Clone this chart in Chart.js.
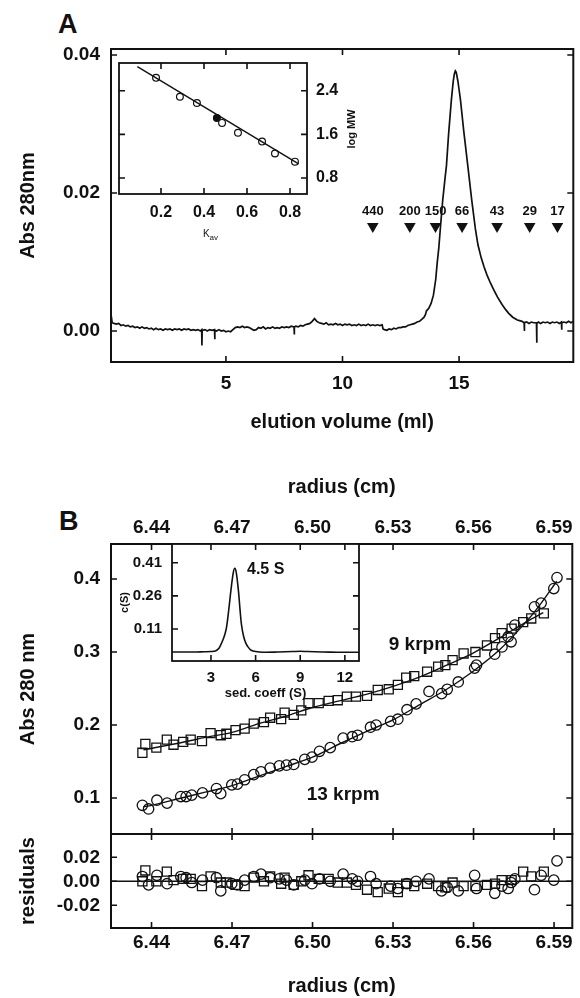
<!DOCTYPE html>
<html>
<head>
<meta charset="utf-8">
<script src="https://cdn.jsdelivr.net/npm/chart.js@4.4.1/dist/chart.umd.min.js"></script>
<style>
  html, body { margin: 0; padding: 0; background: #fff; }
  body { width: 580px; height: 998px; position: relative; overflow: hidden; }
  canvas { position: absolute; left: 0; top: 0; }
  .panel { position: absolute; font: bold 27px "Liberation Sans", Arial, sans-serif; line-height: 1; color: #111; }
</style>
</head>
<body>
<div class="panel" style="left:58px;top:11px">A</div>
<div class="panel" style="left:59px;top:508px">B</div>
<canvas id="chartA" width="580" height="998"></canvas>
<canvas id="chartB" width="580" height="998"></canvas>
<canvas id="chartRes" width="580" height="998"></canvas>
<canvas id="insetA" width="580" height="998"></canvas>
<canvas id="insetB" width="580" height="998"></canvas>
<script>
// ---- panel A: gel filtration profile ----
const elutionMl = [
  0.08,0.12,0.2,0.3,0.4,0.5,0.6,0.7,0.8,0.9,
  1.0,1.1,1.2,1.3,1.4,1.5,1.6,1.7,1.8,1.9,
  2.0,2.1,2.2,2.3,2.4,2.5,2.6,2.7,2.8,2.9,
  3.0,3.1,3.2,3.3,3.4,3.5,3.6,3.7,3.8,3.9,
  3.96,3.97,3.98,4.1,4.2,4.3,4.4,4.51,4.52,4.53,
  4.6,4.7,4.8,4.9,5.0,5.1,5.2,5.3,5.4,5.5,
  5.6,5.7,5.8,5.9,6.0,6.1,6.2,6.3,6.4,6.5,
  6.6,6.7,6.8,6.9,7.0,7.1,7.2,7.3,7.4,7.5,
  7.6,7.7,7.8,7.92,7.93,7.94,8.0,8.1,8.2,8.3,
  8.4,8.5,8.6,8.7,8.8,8.9,9.0,9.1,9.2,9.3,
  9.4,9.5,9.6,9.7,9.8,9.9,10.0,10.1,10.2,10.3,
  10.4,10.5,10.6,10.7,10.8,10.9,11.0,11.1,11.2,11.3,
  11.4,11.5,11.6,11.7,11.74,11.8,11.9,12.0,12.1,12.2,
  12.3,12.4,12.5,12.6,12.7,12.8,12.9,13.0,13.1,13.2,
  13.3,13.4,13.5,13.56,13.6,13.65,13.7,13.8,13.9,14.0,
  14.06,14.13,14.2,14.3,14.4,14.46,14.55,14.67,14.75,14.8,
  14.84,14.88,14.95,15.0,15.06,15.2,15.38,15.55,15.7,15.81,
  15.95,16.07,16.2,16.34,16.5,16.65,16.85,17.0,17.12,17.3,
  17.5,17.6,17.7,17.79,17.8,17.81,17.9,18.0,18.1,18.2,
  18.32,18.33,18.34,18.4,18.5,18.6,18.7,18.8,18.9,19.0,
  19.1,19.2,19.3,19.39,19.4,19.41,19.5,19.6,19.7,19.8,
  19.9
];
const elutionAbs = [
  0.0022,0.0012,0.0011,0.0010,0.0011,0.0008,0.0009,0.0007,0.0008,0.0006,
  0.0007,0.0005,0.0006,0.0004,0.0006,0.0004,0.0005,0.0003,0.0004,0.0002,
  0.0004,0.0002,0.0003,0.0001,0.0003,0.0002,0.0003,0.0001,0.0003,0.0002,
  0.0003,0.0001,0.0003,0.0002,0.0003,0.0001,0.0002,0.0001,0.0002,0.0000,
  0.0002,-0.0021,0.0001,0.0002,0.0000,0.0002,0.0001,0.0002,-0.0012,0.0001,
  0.0000,0.0002,0.0000,0.0001,-0.0001,0.0000,-0.0001,0.0002,0.0005,0.0006,
  0.0005,0.0007,0.0005,0.0006,0.0005,0.0003,0.0001,0.0002,0.0005,0.0004,
  0.0006,0.0003,0.0005,0.0004,0.0006,0.0004,0.0005,0.0004,0.0006,0.0005,
  0.0006,0.0005,0.0007,0.0006,-0.0005,0.0006,0.0007,0.0006,0.0008,0.0007,
  0.0009,0.0010,0.0011,0.0014,0.0018,0.0014,0.0012,0.0011,0.0010,0.0012,
  0.0009,0.0010,0.0009,0.0011,0.0009,0.0010,0.0008,0.0010,0.0009,0.0010,
  0.0008,0.0009,0.0008,0.0010,0.0008,0.0009,0.0008,0.0010,0.0008,0.0009,
  0.0008,0.0009,0.0008,0.0009,0.0003,0.0002,0.0001,0.0003,0.0002,0.0004,
  0.0003,0.0005,0.0005,0.0006,0.0006,0.0008,0.0009,0.0010,0.0011,0.0013,
  0.0014,0.0017,0.0020,0.0024,0.0029,0.0031,0.0033,0.0040,0.0052,0.0075,
  0.0098,0.0120,0.0150,0.0190,0.0222,0.0240,0.0285,0.0335,0.0362,0.0373,
  0.0377,0.0375,0.0362,0.0350,0.0335,0.0290,0.0238,0.0188,0.0148,0.0125,
  0.0106,0.0093,0.0081,0.0070,0.0059,0.0049,0.0038,0.0031,0.0026,0.0020,
  0.0016,0.0015,0.0014,0.0012,0.0000,0.0012,0.0013,0.0011,0.0013,0.0012,
  0.0012,-0.0017,0.0011,0.0013,0.0011,0.0013,0.0012,0.0013,0.0011,0.0013,
  0.0012,0.0013,0.0011,0.0013,0.0002,0.0012,0.0013,0.0012,0.0014,0.0012,
  0.0014
];
// molecular weight standards (kDa) and their elution volumes
const standardMl = [11.30, 12.89, 13.99, 15.13, 16.63, 18.03, 19.22];
const standardKDa = ['440', '200', '150', '66', '43', '29', '17'];
const elutionTicks = [5, 10, 15];
const absTicksA = [0.00, 0.02, 0.04];

// inset A: calibration
const calKav = [0.177, 0.288, 0.367, 0.484, 0.558, 0.670, 0.730, 0.823];
const calLogMW = [2.636, 2.290, 2.176, 1.810, 1.630, 1.467, 1.250, 1.100];
const sampleKav = [0.460];
const sampleLogMW = [1.900];
const calFitKav = [0.09, 0.84];
const calFitLogMW = [2.843, 1.060];
const kavTicks = [0.2, 0.4, 0.6, 0.8];
const logMWTicks = [0.8, 1.6, 2.4];

// ---- panel B: sedimentation equilibrium ----
const r9 = [6.4366,6.4377,6.4418,6.4457,6.4482,6.4518,6.4546,6.4588,6.4620,6.4658,
  6.4679,6.4713,6.4747,6.4781,6.4819,6.4842,6.4883,6.4896,6.4930,6.4958,
  6.4985,6.5023,6.5060,6.5094,6.5128,6.5162,6.5203,6.5243,6.5284,6.5318,
  6.5349,6.5379,6.5427,6.5468,6.5495,6.5522,6.5563,6.5607,6.5650,6.5680,
  6.5705,6.5742,6.5785,6.5815,6.5862];
const abs9 = [0.162,0.174,0.169,0.180,0.173,0.177,0.180,0.178,0.189,0.186,
  0.188,0.193,0.195,0.202,0.204,0.210,0.208,0.217,0.214,0.220,
  0.230,0.230,0.233,0.234,0.239,0.239,0.240,0.248,0.249,0.255,
  0.265,0.267,0.273,0.280,0.282,0.289,0.298,0.300,0.309,0.319,
  0.326,0.332,0.341,0.346,0.353];
const res9 = [0.000,0.009,0.000,0.008,0.001,0.002,0.002,-0.004,0.004,-0.001,
  -0.001,-0.003,-0.004,0.003,0.000,0.004,-0.002,0.003,-0.003,0.000,
  0.005,0.002,0.002,-0.001,-0.001,-0.003,-0.007,-0.009,-0.006,-0.009,
  -0.002,-0.004,-0.002,-0.004,-0.005,-0.001,-0.004,-0.004,-0.003,-0.002,
  0.001,0.001,0.008,0.004,0.008];
const r13 = [6.4366,6.4389,6.4420,6.4458,6.4509,6.4529,6.4550,6.4590,6.4642,6.4658,
  6.4699,6.4720,6.4747,6.4781,6.4808,6.4842,6.4876,6.4903,6.4930,6.4971,
  6.4998,6.5026,6.5066,6.5114,6.5148,6.5168,6.5216,6.5237,6.5291,6.5318,
  6.5352,6.5386,6.5434,6.5481,6.5502,6.5543,6.5604,6.5611,6.5679,6.5706,
  6.5729,6.5740,6.5754,6.5827,6.5852,6.5899,6.5911];
const abs13 = [0.090,0.085,0.097,0.093,0.102,0.102,0.104,0.107,0.113,0.106,
  0.118,0.119,0.125,0.132,0.136,0.141,0.144,0.145,0.146,0.153,
  0.156,0.164,0.169,0.182,0.184,0.186,0.197,0.200,0.205,0.208,
  0.221,0.229,0.246,0.243,0.249,0.259,0.278,0.282,0.297,0.307,
  0.321,0.314,0.337,0.362,0.367,0.387,0.402];
const res13 = [0.004,-0.003,0.005,-0.002,0.004,0.003,-0.001,0.001,0.003,-0.008,
  -0.002,-0.003,0.001,0.004,0.006,0.003,0.002,0.001,-0.003,0.001,
  -0.002,0.002,0.000,0.006,0.002,0.000,0.004,-0.002,-0.004,-0.006,
  -0.002,0.000,0.002,-0.008,-0.005,-0.008,0.005,-0.006,-0.010,-0.004,
  -0.006,-0.001,0.002,-0.007,0.005,0.001,0.017];
// fitted curves
const fit9R = [6.437,6.45,6.46,6.47,6.48,6.49,6.50,6.51,6.52,6.53,6.54,6.55,6.56,6.57,6.58,6.586];
const fit9Abs = [0.166,0.175,0.183,0.190,0.202,0.212,0.224,0.233,0.242,0.253,0.266,0.282,0.299,0.320,0.342,0.354];
const fit13R = [6.437,6.44,6.45,6.46,6.47,6.48,6.49,6.50,6.51,6.52,6.53,6.54,6.55,6.56,6.57,6.58,6.585,6.591];
const fit13Abs = [0.088,0.090,0.099,0.108,0.117,0.130,0.143,0.156,0.174,0.191,0.207,0.228,0.249,0.274,0.304,0.343,0.366,0.397];
const radiusTicks = [6.44, 6.47, 6.50, 6.53, 6.56, 6.59];
const absTicksB = [0.1, 0.2, 0.3, 0.4];
const resTicks = [-0.02, 0.00, 0.02];

// inset B: c(S) distribution
const sedS = [0.38,1.0,1.5,2.0,2.5,3.0,3.3,3.5,3.6,3.8,3.95,4.05,4.2,4.35,4.5,4.6,4.7,4.85,4.95,5.05,
  5.2,5.35,5.5,5.7,6.0,6.5,7.5,8.5,9.0,9.5,10.5,11.5,12.5,12.95];
const cS = [0.006,0.006,0.006,0.006,0.007,0.008,0.010,0.020,0.030,0.060,0.090,0.120,0.200,0.290,0.365,0.385,0.365,0.280,0.200,0.130,
  0.075,0.045,0.028,0.014,0.008,0.005,0.006,0.008,0.009,0.008,0.006,0.005,0.005,0.005];
const sedTicks = [3, 6, 9, 12];
const cSTicks = [0.11, 0.26, 0.41];

// ---------------------------------------------------------------
const FONT = '"Liberation Sans", Arial, sans-serif';
const INK = '#111';
Chart.defaults.font.family = FONT;
Chart.defaults.font.weight = 'bold';
Chart.defaults.color = INK;
Chart.defaults.animation = false;
Chart.defaults.plugins.legend.display = false;
Chart.defaults.plugins.tooltip.enabled = false;

const pts = (xs, ys) => xs.map((x, i) => ({ x: x, y: ys[i] }));
const fixSize = size => s => { if (s.isHorizontal()) s.height = size; else s.width = size; };
const useTicks = vals => s => { s.ticks = vals.map(v => ({ value: v })); };

// box around the plot area with inward tick marks on every side
const framePlugin = {
  id: 'frame',
  afterDatasetsDraw(chart, args, o) {
    if (!o || !o.width) return;
    const { ctx, chartArea: a } = chart;
    const xs = chart.scales.x, ys = chart.scales.y, t = o.tick;
    ctx.save();
    ctx.strokeStyle = INK;
    ctx.lineWidth = o.width;
    ctx.strokeRect(a.left, a.top, a.right - a.left, a.bottom - a.top);
    ctx.lineWidth = 1.6;
    ctx.beginPath();
    xs.ticks.forEach(tk => {
      const p = xs.getPixelForValue(tk.value);
      ctx.moveTo(p, a.top); ctx.lineTo(p, a.top + t);
      ctx.moveTo(p, a.bottom); ctx.lineTo(p, a.bottom - t);
    });
    ys.ticks.forEach(tk => {
      const p = ys.getPixelForValue(tk.value);
      ctx.moveTo(a.left, p); ctx.lineTo(a.left + t, p);
      ctx.moveTo(a.right, p); ctx.lineTo(a.right - t, p);
    });
    ctx.stroke();
    ctx.restore();
  }
};

// white plot background for the insets
const paperPlugin = {
  id: 'paper',
  beforeDraw(chart, args, o) {
    if (!o || !o.on) return;
    const { ctx, chartArea: a } = chart;
    ctx.save();
    ctx.fillStyle = '#fff';
    ctx.fillRect(a.left, a.top, a.right - a.left, a.bottom - a.top);
    ctx.restore();
  }
};

// free text: data coordinates (x, y) or pixel coordinates (px, py),
// plus labels above points of datasets that carry "tags"
const notesPlugin = {
  id: 'notes',
  afterDraw(chart, args, o) {
    const { ctx } = chart;
    const items = (o && o.items) || [];
    items.forEach(n => {
      const x = n.px !== undefined ? n.px : chart.scales.x.getPixelForValue(n.x);
      const y = n.py !== undefined ? n.py : chart.scales.y.getPixelForValue(n.y);
      ctx.save();
      ctx.font = n.font;
      ctx.fillStyle = INK;
      ctx.textAlign = n.align || 'center';
      ctx.textBaseline = 'middle';
      ctx.translate(x, y);
      if (n.rot) ctx.rotate(n.rot);
      ctx.fillText(n.text, 0, 0);
      ctx.restore();
    });
    chart.data.datasets.forEach((ds, i) => {
      if (!ds.tags) return;
      chart.getDatasetMeta(i).data.forEach((el, j) => {
        ctx.save();
        ctx.font = 'bold 13px ' + FONT;
        ctx.fillStyle = INK;
        ctx.textAlign = 'center';
        ctx.textBaseline = 'middle';
        ctx.fillText(ds.tags[j], el.x, el.y - 14.5);
        ctx.restore();
      });
    });
  }
};

Chart.register(framePlugin, paperPlugin, notesPlugin);

const noGrid = { display: false, drawTicks: false };
const noBorder = { display: false };

// ---- A main ----
new Chart(document.getElementById('chartA'), {
  type: 'scatter',
  data: {
    datasets: [
      { data: pts(elutionMl, elutionAbs), showLine: true, borderColor: INK, borderWidth: 1.7, pointRadius: 0, tension: 0 },
      { data: standardMl.map(x => ({ x: x, y: 0.01516 })), tags: standardKDa, pointStyle: 'triangle', rotation: 180,
        pointRadius: 6.7, backgroundColor: INK, borderColor: INK, borderWidth: 0 }
    ]
  },
  options: {
    responsive: false,
    layout: { padding: { left: 0, top: 49, right: 2, bottom: 538 } },
    scales: {
      x: {
        min: 0.07, max: 19.9, afterFit: fixSize(98), afterBuildTicks: useTicks(elutionTicks),
        grid: noGrid, border: noBorder,
        ticks: { font: { size: 19 }, padding: 10, autoSkip: false, maxRotation: 0, callback: v => String(v) },
        title: { display: true, text: 'elution volume (ml)', font: { size: 20 }, padding: { top: 0, bottom: 26 } }
      },
      y: {
        min: -0.00449, max: 0.04087, afterFit: fixSize(111), afterBuildTicks: useTicks(absTicksA),
        grid: noGrid, border: noBorder,
        ticks: { font: { size: 19 }, padding: 11, callback: v => v.toFixed(2) },
        title: { display: true, text: 'Abs 280nm', font: { size: 20 }, padding: { top: 16, bottom: 0 } }
      }
    },
    plugins: { frame: { width: 2, tick: 6 } }
  }
});

// ---- B main ----
new Chart(document.getElementById('chartB'), {
  type: 'scatter',
  data: {
    datasets: [
      { data: pts(fit9R, fit9Abs), showLine: true, borderColor: INK, borderWidth: 1.4, pointRadius: 0, tension: 0.3 },
      { data: pts(fit13R, fit13Abs), showLine: true, borderColor: INK, borderWidth: 1.4, pointRadius: 0, tension: 0.3 },
      { data: pts(r9, abs9), pointStyle: 'rect', pointRadius: 6.4, borderColor: INK, borderWidth: 1.3, backgroundColor: 'rgba(0,0,0,0)' },
      { data: pts(r13, abs13), pointStyle: 'circle', pointRadius: 5.2, borderColor: INK, borderWidth: 1.3, backgroundColor: 'rgba(0,0,0,0)' }
    ]
  },
  options: {
    responsive: false,
    layout: { padding: { left: 0, top: 460, right: 2, bottom: 164 } },
    scales: {
      x: {
        position: 'top', min: 6.4249, max: 6.5968, afterFit: fixSize(84), afterBuildTicks: useTicks(radiusTicks),
        grid: noGrid, border: noBorder,
        ticks: { font: { size: 19 }, padding: 5, autoSkip: false, maxRotation: 0, callback: v => v.toFixed(2) },
        title: { display: true, text: 'radius (cm)', font: { size: 20 }, padding: { top: 15, bottom: 0 } }
      },
      y: {
        min: 0.0507, max: 0.448, afterFit: fixSize(111), afterBuildTicks: useTicks(absTicksB),
        grid: noGrid, border: noBorder,
        ticks: { font: { size: 19 }, padding: 11, callback: v => v.toFixed(1) },
        title: { display: true, text: 'Abs 280 nm', font: { size: 20 }, padding: { top: 16, bottom: 0 } }
      }
    },
    plugins: {
      frame: { width: 2, tick: 6 },
      notes: { items: [
        { text: '9 krpm', x: 6.540, y: 0.3096, font: 'bold 19px ' + FONT },
        { text: '13 krpm', x: 6.5114, y: 0.104, font: 'bold 19px ' + FONT }
      ] }
    }
  }
});

// ---- B residuals ----
new Chart(document.getElementById('chartRes'), {
  type: 'scatter',
  data: {
    datasets: [
      { data: [{ x: 6.4249, y: 0 }, { x: 6.5968, y: 0 }], showLine: true, borderColor: INK, borderWidth: 1.4, pointRadius: 0 },
      { data: pts(r13, res13), pointStyle: 'circle', pointRadius: 5.2, borderColor: INK, borderWidth: 1.3, backgroundColor: 'rgba(0,0,0,0)' },
      { data: pts(r9, res9), pointStyle: 'rect', pointRadius: 6.4, borderColor: INK, borderWidth: 1.3, backgroundColor: 'rgba(0,0,0,0)' }
    ]
  },
  options: {
    responsive: false,
    layout: { padding: { left: 0, top: 834, right: 2, bottom: 0 } },
    scales: {
      x: {
        min: 6.4249, max: 6.5968, afterFit: fixSize(70), afterBuildTicks: useTicks(radiusTicks),
        grid: noGrid, border: noBorder,
        ticks: { font: { size: 19 }, padding: 3, autoSkip: false, maxRotation: 0, callback: v => v.toFixed(2) },
        title: { display: true, text: 'radius (cm)', font: { size: 20 }, padding: { top: 0, bottom: 0 } }
      },
      y: {
        min: -0.0389, max: 0.0394, afterFit: fixSize(111), afterBuildTicks: useTicks(resTicks),
        grid: noGrid, border: noBorder,
        ticks: { font: { size: 19 }, padding: 11, callback: v => v.toFixed(2) },
        title: { display: true, text: 'residuals', font: { size: 20 }, padding: { top: 16, bottom: 0 } }
      }
    },
    plugins: { frame: { width: 2, tick: 6 } }
  }
});

// ---- inset A: calibration curve ----
new Chart(document.getElementById('insetA'), {
  type: 'scatter',
  data: {
    datasets: [
      { data: pts(calFitKav, calFitLogMW), showLine: true, borderColor: INK, borderWidth: 1.4, pointRadius: 0 },
      { data: pts(calKav, calLogMW), pointStyle: 'circle', pointRadius: 3.4, borderColor: INK, borderWidth: 1.2, backgroundColor: '#fff' },
      { data: pts(sampleKav, sampleLogMW), pointStyle: 'circle', pointRadius: 3.4, borderColor: INK, borderWidth: 1.2, backgroundColor: INK }
    ]
  },
  options: {
    responsive: false,
    layout: { padding: { left: 119, top: 63, right: 213, bottom: 764 } },
    scales: {
      x: {
        min: 0.0047, max: 0.879, afterFit: fixSize(40), afterBuildTicks: useTicks(kavTicks),
        grid: noGrid, border: noBorder,
        ticks: { font: { size: 16 }, padding: 9, autoSkip: false, maxRotation: 0, callback: v => v.toFixed(1) }
      },
      y: {
        position: 'right', min: 0.507, max: 2.908, afterFit: fixSize(60), afterBuildTicks: useTicks(logMWTicks),
        grid: noGrid, border: noBorder,
        ticks: { font: { size: 16 }, padding: 9, callback: v => v.toFixed(1) }
      }
    },
    plugins: {
      paper: { on: true },
      frame: { width: 1.8, tick: 6 },
      notes: { items: [
        { text: 'log MW', px: 352, py: 129, rot: -Math.PI / 2, font: 'bold 11px ' + FONT },
        { text: 'K', px: 203, py: 234, align: 'left', font: '10px ' + FONT },
        { text: 'av', px: 209.5, py: 238, align: 'left', font: '8px ' + FONT }
      ] }
    }
  }
});

// ---- inset B: c(S) ----
new Chart(document.getElementById('insetB'), {
  type: 'scatter',
  data: {
    datasets: [
      { data: pts(sedS, cS), showLine: true, borderColor: INK, borderWidth: 1.6, pointRadius: 0, tension: 0.35 }
    ]
  },
  options: {
    responsive: false,
    layout: { padding: { left: 111, top: 544, right: 221, bottom: 292 } },
    scales: {
      x: {
        min: 0.38, max: 12.95, afterFit: fixSize(45), afterBuildTicks: useTicks(sedTicks),
        grid: noGrid, border: noBorder,
        ticks: { font: { size: 15 }, padding: 8, autoSkip: false, maxRotation: 0, callback: v => String(v) },
        title: { display: true, text: 'sed. coeff (S)', font: { size: 13 }, padding: { top: 0, bottom: 5 } }
      },
      y: {
        min: -0.0348, max: 0.4946, afterFit: fixSize(61), afterBuildTicks: useTicks(cSTicks),
        grid: noGrid, border: noBorder,
        ticks: { font: { size: 15 }, padding: 10, callback: v => v.toFixed(2) },
        title: { display: true, text: 'c(S)', font: { size: 11 }, padding: { top: 7.4, bottom: 0 } }
      }
    },
    plugins: {
      paper: { on: true },
      frame: { width: 1.8, tick: 6 },
      notes: { items: [
        { text: '4.5 S', x: 5.42, y: 0.377, align: 'left', font: 'bold 16px ' + FONT }
      ] }
    }
  }
});
</script>
</body>
</html>
